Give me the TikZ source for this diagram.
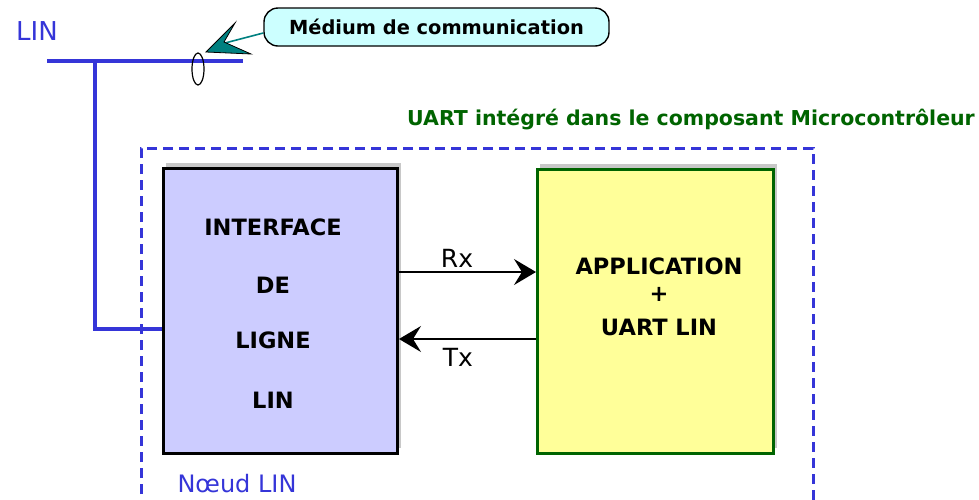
\documentclass[tikz,border=0pt]{standalone}
\usepackage{fontspec}
\setmainfont{DejaVu Sans}
\usetikzlibrary{arrows.meta,shapes.geometric}
\definecolor{busblue}{HTML}{3535D8}
\definecolor{ifacefill}{HTML}{CCCCFF}
\definecolor{appfill}{HTML}{FFFF99}
\definecolor{appborder}{HTML}{006400}
\definecolor{uartgreen}{HTML}{006400}
\definecolor{calloutfill}{HTML}{CCFFFF}
\definecolor{pointerteal}{HTML}{008080}
\definecolor{shadowgray}{HTML}{C8C8C8}
\tikzset{
  bus/.style={draw=busblue, line width=3.5pt},
  blockbox/.style={line width=3pt},
  blocktext/.style={font=\bfseries\fontsize{22.5}{26}\selectfont, anchor=center},
  sigarrow/.style={draw=black, line width=1.4pt, -{Stealth[length=22pt,width=26pt,inset=8pt]}},
  siglabel/.style={font=\fontsize{25}{28}\selectfont},
  bluelabel/.style={text=busblue, font=\fontsize{24}{28}\selectfont},
}
\begin{document}
\begin{tikzpicture}[x=1pt,y=-1pt]
\useasboundingbox (0,0) rectangle (979,499);

% bus medium
\node[bluelabel, font=\fontsize{26}{30}\selectfont, anchor=center] (linlabel) at (37,31) {LIN};
\coordinate (busL) at (47,61);
\coordinate (busR) at (243,61);
\coordinate (tap) at (95,61);
\coordinate (tapdown) at (95,329);
\draw[bus] (busL) -- (busR);
\draw[bus] (tap) -- (tapdown) -- (162,329);
\draw[black, line width=1.2pt] (198,69) ellipse [x radius=6, y radius=16];

% callout for the communication medium
\node[draw=black, line width=1.4pt, fill=calloutfill, rounded corners=14pt,
      minimum width=345pt, minimum height=38pt, inner sep=0pt,
      font=\bfseries\fontsize{19.4}{22}\selectfont] (callout) at (436.5,27) {Médium de communication};
\draw[pointerteal, line width=1.6pt] (callout.west) ++(0,6) -- (225,43);
\filldraw[fill=pointerteal, draw=black, line width=0.8pt]
  (206,52) -- (235,23) -- (224,42) -- (251,54) -- cycle;

% microcontroller boundary
\node[text=uartgreen, font=\bfseries\fontsize{20.5}{24}\selectfont, anchor=center] (uartlabel) at (691,120)
  {UART intégré dans le composant Microcontrôleur};
\draw[busblue, line width=3pt, dash pattern=on 10pt off 6pt] (141,510) -- (141,148) -- (813,148) -- (813,510);

% line interface block
\fill[shadowgray] (166,163) rectangle (401,448);
\node[draw=black, fill=ifacefill, blockbox, minimum width=234pt, minimum height=285pt,
      inner sep=0pt, anchor=north west] (iface) at (162,167) {};
\node[blocktext] (i1) at (273,227) {INTERFACE};
\node[blocktext] (i2) at (273,285) {DE};
\node[blocktext] (i3) at (273,340) {LIGNE};
\node[blocktext] (i4) at (273,400) {LIN};

% application block
\fill[shadowgray] (540,164) rectangle (777,448);
\node[draw=appborder, fill=appfill, blockbox, minimum width=236pt, minimum height=284pt,
      inner sep=0pt, anchor=north west] (app) at (536,168) {};
\node[blocktext] (a1) at (659,266) {APPLICATION};
\node[blocktext] (a2) at (659,294) {+};
\node[blocktext] (a3) at (659,327) {UART LIN};

% Rx / Tx signals
\draw[sigarrow] (iface.east |- 0,272) -- (app.west |- 0,272);
\node[siglabel] (rx) at (457,258) {Rx};
\draw[sigarrow] (app.west |- 0,339) -- (iface.east |- 0,339);
\node[siglabel] (tx) at (458,357) {Tx};

\node[bluelabel, anchor=center] (noeud) at (237,484) {Nœud LIN};
\end{tikzpicture}
\end{document}
